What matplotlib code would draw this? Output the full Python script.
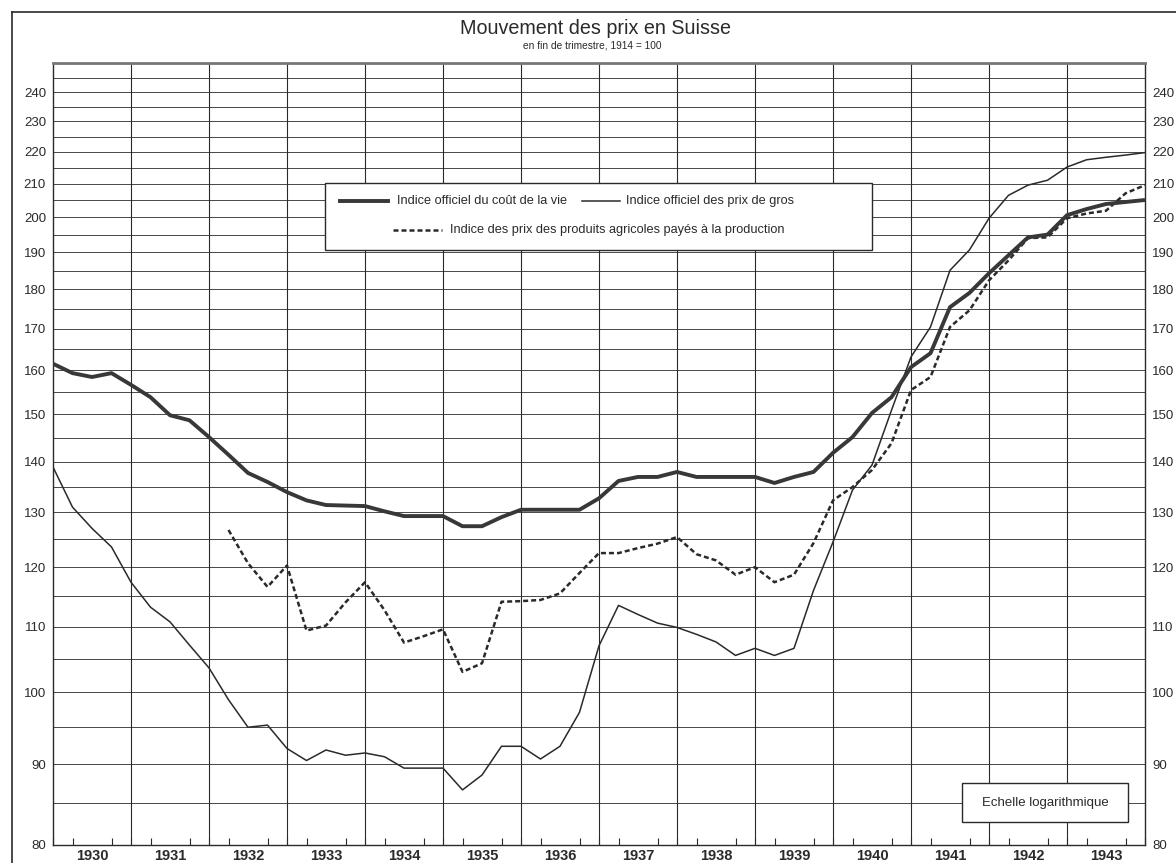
import numpy as np
import matplotlib.pyplot as plt
from matplotlib.lines import Line2D
from matplotlib.patches import Rectangle

plt.rcParams['font.family'] = ['Liberation Sans', 'DejaVu Sans']

# fin de trimestre: fin 1929 -> fin 1943 (57 points)
quarters = np.arange(57)
t = 1930 + quarters / 4
years = list(range(1930, 1944))

cout_vie = [161.5, 159.3, 158.4, 159.3, 156.6, 153.8, 149.8, 148.7, 145.1, 141.4,
            137.7, 135.9, 133.9, 132.3, 131.4, 131.3, 131.2, 130.2, 129.3, 129.3,
            129.3, 127.4, 127.4, 129.1, 130.5, 130.5, 130.5, 130.5, 132.7, 136.1,
            136.9, 136.9, 137.9, 136.9, 136.9, 136.9, 136.9, 135.7, 136.9, 137.9,
            141.8, 145.1, 150.3, 153.8, 160.7, 164.0, 175.4, 179.1, 184.3, 189.2,
            194.2, 195.0, 200.6, 202.4, 203.9, 204.5, 205.1]

prix_gros = [138.9, 131.0, 127.0, 123.6, 117.4, 113.2, 110.8, 107.1, 103.6, 98.9,
             95.0, 95.3, 92.1, 90.5, 91.9, 91.2, 91.5, 91.0, 89.5, 89.5,
             89.5, 86.7, 88.6, 92.4, 92.4, 90.7, 92.4, 97.1, 107.0, 113.5,
             112.0, 110.6, 109.9, 108.8, 107.6, 105.5, 106.6, 105.5, 106.6, 116.0,
             124.5, 134.3, 139.3, 150.9, 163.1, 170.4, 185.1, 190.7, 199.7, 206.5,
             209.6, 211.1, 215.2, 217.5, 218.3, 219.0, 219.8]

# prix agricoles: début fin 1932 T1
agricoles = [np.nan] * 9 + [
    126.7, 120.7, 116.6, 120.3, 109.4, 110.2, 114.0, 117.4, 112.7, 107.5,
    108.5, 109.6, 103.0, 104.3, 114.1, 114.2, 114.4, 115.5, 119.0, 122.5,
    122.5, 123.4, 124.2, 125.4, 122.3, 121.2, 118.7, 120.0, 117.4, 118.7,
    124.3, 132.3, 134.9, 138.3, 143.8, 155.4, 158.4, 170.4, 174.6, 182.4,
    187.8, 194.0, 194.2, 199.7, 201.1, 201.9, 207.1, 209.6]

yticks = list(range(80, 250, 10))
grid_levels = list(range(85, 250, 5))

ink = '#2a2a2a'

fig = plt.figure(figsize=(11.76, 8.63), dpi=100)
ax = fig.add_axes([53 / 1176, 1 - 845 / 863, 1092 / 1176, 782 / 863])

ax.set_yscale('log')
ax.set_xlim(1930, 1944)
ax.set_ylim(80, 250.5)

# grille
ax.hlines(grid_levels, 1930, 1944, color='#3a3a3a', lw=0.65, zorder=1)
ax.vlines(years[1:], 80, 250.5, color=ink, lw=0.8, zorder=1)

# courbes
ax.plot(t, prix_gros, color=ink, lw=1.1, zorder=3)
ax.plot(t, agricoles, color=ink, lw=1.8, dashes=(2.0, 1.2), zorder=3)
ax.plot(t, cout_vie, color='#383838', lw=2.8, zorder=4, solid_capstyle='butt')

# axes
ax.set_yticks(yticks)
ax.set_yticklabels([str(v) for v in yticks])
ax.yaxis.set_minor_locator(plt.NullLocator())
ax.tick_params(axis='y', which='both', length=0, labelsize=9.5, pad=5,
               left=True, right=True, labelleft=True, labelright=True,
               labelcolor=ink)

ax.set_xticks([y + 0.5 for y in years])
ax.set_xticklabels([str(y) for y in years], fontweight='bold', fontsize=10.5, color=ink)
ax.set_xticks(np.arange(1930, 1944.01, 0.25), minor=True)
ax.tick_params(axis='x', which='major', length=0, pad=3)
ax.tick_params(axis='x', which='minor', direction='in', length=5, width=0.8, color=ink)

for s in ax.spines.values():
    s.set_color(ink)
    s.set_linewidth(1.0)
ax.spines['top'].set_color('#777777')
ax.spines['top'].set_linewidth(2.0)

# légende
def fx(px):
    return (px - 53) / 1092

def fy(py):
    return (845 - py) / 782

lx0, lx1 = fx(325), fx(872)
ly0, ly1 = fy(250), fy(183)
ax.add_patch(Rectangle((lx0, ly0), lx1 - lx0, ly1 - ly0, transform=ax.transAxes,
                       facecolor='white', edgecolor=ink, lw=1.0, zorder=6))
row1 = fy(201)
row2 = fy(230)
ax.add_line(Line2D([fx(340), fx(388)], [row1, row1], transform=ax.transAxes,
                   color='#383838', lw=2.8, zorder=7))
ax.text(fx(397), row1, 'Indice officiel du coût de la vie', transform=ax.transAxes,
        fontsize=9.2, va='center', ha='left', color=ink, zorder=7)
ax.add_line(Line2D([fx(582), fx(620)], [row1, row1], transform=ax.transAxes,
                   color=ink, lw=1.1, zorder=7))
ax.text(fx(626), row1, 'Indice officiel des prix de gros', transform=ax.transAxes,
        fontsize=9.2, va='center', ha='left', color=ink, zorder=7)
ax.add_line(Line2D([fx(393), fx(442)], [row2, row2], transform=ax.transAxes,
                   color=ink, lw=1.8, dashes=(2.0, 1.2), zorder=7))
ax.text(fx(450), row2, 'Indice des prix des produits agricoles payés à la production',
        transform=ax.transAxes, fontsize=9.2, va='center', ha='left', color=ink, zorder=7)

# échelle
ex0, ex1 = fx(962), fx(1128)
ey0, ey1 = fy(822), fy(783)
ax.add_patch(Rectangle((ex0, ey0), ex1 - ex0, ey1 - ey0, transform=ax.transAxes,
                       facecolor='white', edgecolor=ink, lw=1.0, zorder=6))
ax.text((ex0 + ex1) / 2, (ey0 + ey1) / 2, 'Echelle logarithmique', transform=ax.transAxes,
        fontsize=9.5, ha='center', va='center', color=ink, zorder=7)

# titres
fig.text(596 / 1176, 1 - 29 / 863, 'Mouvement des prix en Suisse', fontsize=14.2,
         ha='center', va='center', color=ink)
fig.text(592 / 1176, 1 - 46 / 863, 'en fin de trimestre, 1914 = 100', fontsize=7.3,
         ha='center', va='center', color=ink)

# cadre extérieur
fig.add_artist(Line2D([12 / 1176, 1], [1 - 12 / 863, 1 - 12 / 863], color=ink, lw=1.2))
fig.add_artist(Line2D([12 / 1176, 12 / 1176], [0, 1 - 12 / 863], color=ink, lw=1.2))

fig.savefig('out.png', dpi=100, facecolor='white')
